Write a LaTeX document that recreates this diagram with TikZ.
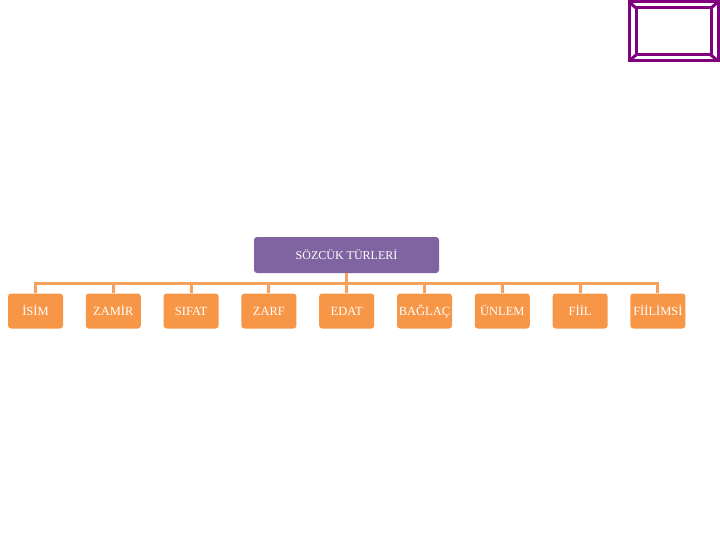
\documentclass[tikz,border=0pt]{standalone}
\usepackage{fontspec}
\setmainfont{Liberation Serif}
\definecolor{orng}{HTML}{F79646}
\definecolor{orngline}{HTML}{F4A15D}
\definecolor{purp}{HTML}{8064A2}
\definecolor{frame}{HTML}{800080}
\begin{document}
\begin{tikzpicture}[x=1pt,y=-1pt,
  parentbox/.style={fill=purp,rounded corners=3pt,minimum width=185pt,minimum height=36pt,text=white,font=\fontsize{12}{14}\selectfont,inner sep=0pt,text height=9pt,text depth=0pt},
  childbox/.style={fill=orng,rounded corners=3pt,minimum width=55pt,minimum height=35pt,text=white,font=\fontsize{12.5}{14}\selectfont,inner sep=0pt,text height=9pt,text depth=0pt},
  link/.style={draw=orngline,line width=3pt}]
\useasboundingbox (0,0) rectangle (720,540);
% frame
\begin{scope}[draw=frame,line width=3pt]
\draw (629,2) rectangle (718,61);
\draw (636,8) rectangle (711,55);
\draw (629,2) -- (636,8);
\draw (718,2) -- (711,8);
\draw (629,61) -- (636,55);
\draw (718,61) -- (711,55);
\end{scope}
\node[parentbox] (p) at (346.5,255) {SÖZCÜK TÜRLERİ};
\coordinate (bar) at (346.5,283.5);
\foreach \i/\t in {0/İSİM,1/ZAMİR,2/SIFAT,3/ZARF,4/EDAT,5/BAĞLAÇ,6/ÜNLEM,7/FİİL,8/FİİLİMSİ}{
  \node[childbox] (c\i) at ({35.5+77.8*\i},311) {\t};
}
\draw[link] (p.south) -- (bar);
\draw[link] (c0.north) |- (bar) -| (c8.north);
\foreach \i in {1,...,7}{
  \draw[link] (c\i.north) -- (c\i.north |- bar);
}
\end{tikzpicture}
\end{document}
